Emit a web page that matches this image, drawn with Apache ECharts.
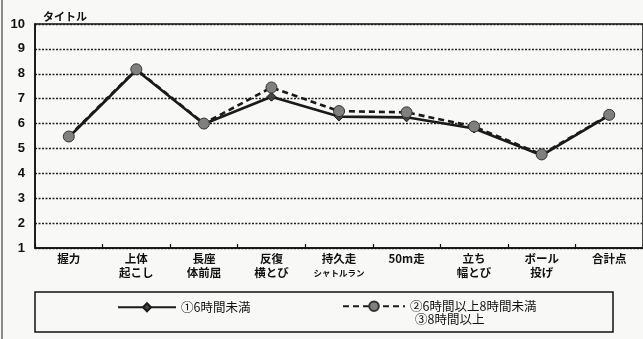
<!DOCTYPE html>
<html>
<head>
<meta charset="utf-8">
<script src="https://cdn.jsdelivr.net/npm/echarts@6/dist/echarts.min.js"></script>
<style>
html,body{margin:0;padding:0;background:#f8f8f6;}
#c{width:643px;height:339px;}
</style>
</head>
<body>
<div id="c"></div>
<script>
var categories = ['握力', '上体\n起こし', '長座\n体前屈', '反復\n横とび', '持久走\n{s|シャトルラン}', '50m走', '立ち\n幅とび', 'ボール\n投げ', '合計点'];
var seriesNames = ['①6時間未満', '②6時間以上8時間未満', '③8時間以上'];
var under6 = [5.45, 8.15, 5.98, 7.08, 6.28, 6.25, 5.8, 4.72, 6.33];
var from6to8 = [5.48, 8.18, 6.0, 7.45, 6.5, 6.45, 5.88, 4.76, 6.35];
var over8 = [];
var yTicks = {min: 1, max: 10, interval: 1};

var jp = '"Noto Sans CJK JP", sans-serif';
var chart = echarts.init(document.getElementById('c'), null, {renderer: 'canvas'});
chart.setOption({
  backgroundColor: '#f8f8f6',
  animation: false,
  title: {
    text: 'タイトル', left: 38, top: 6,
    textStyle: {fontFamily: jp, fontSize: 11, fontWeight: 'bold', color: '#111'}
  },
  grid: {left: 35, top: 24, width: 612, height: 224, show: true, borderColor: '#111', borderWidth: 1.5, backgroundColor: 'transparent'},
  xAxis: {
    type: 'category', data: categories, boundaryGap: true,
    axisLine: {lineStyle: {color: '#111', width: 1.5}},
    axisTick: {show: true, inside: true, length: 4, lineStyle: {color: '#111', width: 1.2}},
    axisLabel: {
      interval: 0, margin: 4, fontFamily: jp, fontSize: 11.5, fontWeight: 'bold', color: '#111', lineHeight: 14,
      rich: {s: {fontFamily: jp, fontSize: 8.5, fontWeight: 'bold', color: '#111', lineHeight: 14}}
    }
  },
  yAxis: {
    type: 'value', min: yTicks.min, max: yTicks.max, interval: yTicks.interval,
    axisLine: {show: true, lineStyle: {color: '#111', width: 1.5}},
    axisTick: {show: false},
    axisLabel: {margin: 10, fontFamily: '"Liberation Sans", Arial, sans-serif', fontSize: 13, fontWeight: 'bold', color: '#111'},
    splitLine: {show: true, lineStyle: {color: '#222', type: [2, 1.5], width: 1.3}}
  },
  legend: [
    {data: [seriesNames[0]], left: 117, top: 301, padding: 0, itemWidth: 58, itemHeight: 10, itemGap: 0,
     textStyle: {fontFamily: jp, fontSize: 12.5, color: '#111'}},
    {data: [seriesNames[1]], left: 342, top: 300, padding: 0, itemWidth: 62, itemHeight: 12, itemGap: 0,
     textStyle: {fontFamily: jp, fontSize: 12.5, color: '#111'}},
    {data: [seriesNames[2]], left: 409, top: 313, padding: 0, itemWidth: 0, itemHeight: 0, itemGap: 0,
     itemStyle: {opacity: 0}, lineStyle: {opacity: 0},
     textStyle: {fontFamily: jp, fontSize: 12.5, color: '#111'}}
  ],
  graphic: [
    {type: 'rect', shape: {x: 35, y: 292, width: 578, height: 40}, style: {fill: 'none', stroke: '#111', lineWidth: 1.5}, z: 0},
    {type: 'line', shape: {x1: 2, y1: 0, x2: 2, y2: 339}, style: {stroke: '#666', lineWidth: 1.5}}
  ],
  series: [
    {name: seriesNames[0], type: 'line', data: under6, z: 3,
     symbol: 'diamond', symbolSize: 9,
     lineStyle: {color: '#1a1a1a', width: 2.6},
     itemStyle: {color: '#444', borderColor: '#1a1a1a', borderWidth: 1}},
    {name: seriesNames[1], type: 'line', data: from6to8, z: 4,
     symbol: 'circle', symbolSize: 11,
     lineStyle: {color: '#1a1a1a', width: 2.6, type: [6, 4]},
     itemStyle: {color: '#808080', borderColor: '#333', borderWidth: 1}},
    {name: seriesNames[2], type: 'line', data: over8, symbol: 'none',
     lineStyle: {color: '#888', width: 2}, itemStyle: {color: '#888'}}
  ]
});
</script>
</body>
</html>
